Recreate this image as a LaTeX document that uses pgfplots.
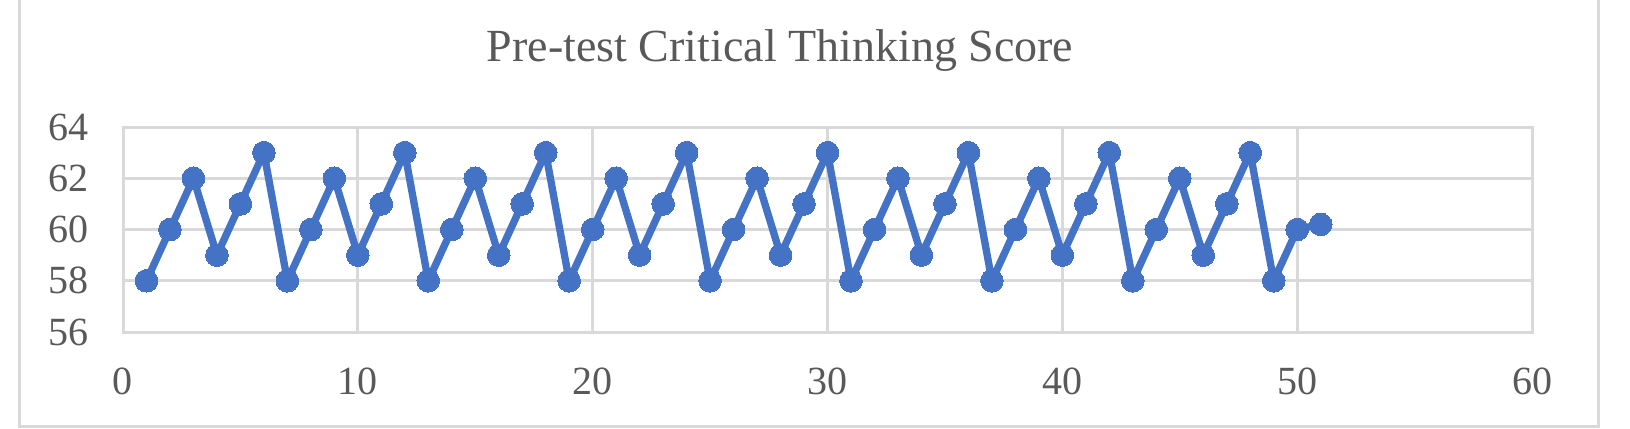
\documentclass[border=0pt]{standalone}
\usepackage{pgfplots}
\pgfplotsset{compat=1.18}
\usepackage{fontspec}
\setmainfont{Liberation Serif}

\definecolor{txtgray}{HTML}{595959}
\definecolor{gridgray}{HTML}{D9D9D9}
\definecolor{xlblue}{HTML}{4472C4}

\begin{document}
\begin{tikzpicture}
\useasboundingbox (0,0) rectangle (489pt,128.4pt);
% outer chart frame (top edge is cropped off in the reference)
\draw[gridgray, line width=0.9pt] (5.7pt,140pt) -- (5.7pt,0.6pt) -- (479.4pt,0.6pt) -- (479.4pt,140pt);
\node[anchor=base, text=txtgray, font=\fontsize{13.8}{16}\selectfont] at (234pt,109.8pt) {Pre-test Critical Thinking Score};
\begin{axis}[
    at={(36.9pt,28.8pt)}, anchor=south west,
    scale only axis,
    width=422.7pt, height=61.5pt,
    xmin=0, xmax=60,
    ymin=56, ymax=64,
    xtick={0,10,20,30,40,50,60},
    ytick={56,58,60,62,64},
    grid=major,
    grid style={gridgray, line width=0.9pt},
    axis line style={gridgray, line width=0.9pt},
    major tick length=0pt,
    tick label style={text=txtgray, font=\fontsize{12}{14}\selectfont},
    /pgf/number format/assume math mode=true,
    xticklabel style={yshift=-7.1pt},
    yticklabel style={xshift=-6.8pt},
    clip=false,
]
\addplot[xlblue, line width=2.2pt, mark=*, mark size=3.4pt,
    mark options={fill=xlblue, draw=xlblue, line width=0pt}]
    coordinates {
    (1,58) (2,60) (3,62) (4,59) (5,61) (6,63)
    (7,58) (8,60) (9,62) (10,59) (11,61) (12,63)
    (13,58) (14,60) (15,62) (16,59) (17,61) (18,63)
    (19,58) (20,60) (21,62) (22,59) (23,61) (24,63)
    (25,58) (26,60) (27,62) (28,59) (29,61) (30,63)
    (31,58) (32,60) (33,62) (34,59) (35,61) (36,63)
    (37,58) (38,60) (39,62) (40,59) (41,61) (42,63)
    (43,58) (44,60) (45,62) (46,59) (47,61) (48,63)
    (49,58) (50,60) (51,60.2)
};
\end{axis}
\end{tikzpicture}
\end{document}
